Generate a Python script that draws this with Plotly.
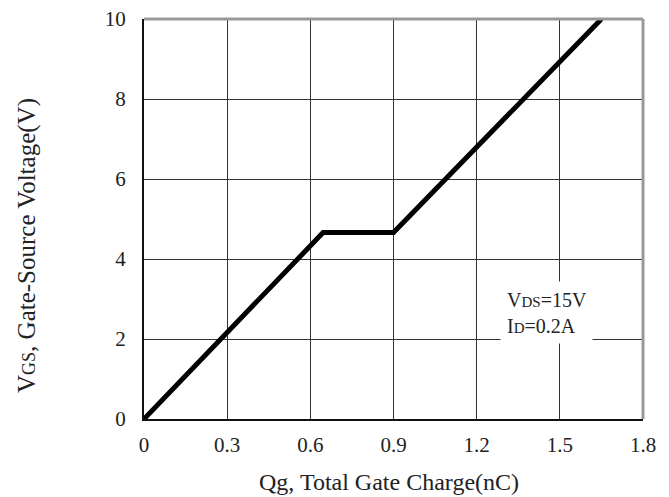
import plotly.graph_objects as go

qg = [0.0, 0.646, 0.9, 1.65]
vgs = [0.0, 4.66, 4.66, 10.0]
x_ticks = [0, 0.3, 0.6, 0.9, 1.2, 1.5, 1.8]
x_tick_labels = ["0", "0.3", "0.6", "0.9", "1.2", "1.5", "1.8"]
y_ticks = [0, 2, 4, 6, 8, 10]
y_tick_labels = ["0", "2", "4", "6", "8", "10"]

FONT = "Liberation Serif, Times New Roman, serif"
TXT = "#222222"

fig = go.Figure()
fig.add_trace(go.Scatter(x=qg, y=vgs, mode="lines",
                         line=dict(color="black", width=5), showlegend=False,
                         hoverinfo="skip"))

axis_common = dict(showgrid=True, gridcolor="#333333", gridwidth=1, automargin=False,
                   zeroline=False, showline=True, linecolor="#111111", linewidth=2,
                   ticks="", ticklabeloverflow="allow",
                   tickfont=dict(family=FONT, size=21, color=TXT))

fig.update_xaxes(range=[0, 1.8], tickvals=x_ticks, ticktext=x_tick_labels,
                 ticklabelstandoff=6, **axis_common)
fig.update_yaxes(range=[0, 10], tickvals=y_ticks, ticktext=y_tick_labels,
                 ticklabelstandoff=12, **axis_common)

# axis titles
fig.add_annotation(x=0.491, y=-0.1575, xref="paper", yref="paper", showarrow=False,
                   xanchor="center", yanchor="middle",
                   text="Qg, Total Gate Charge(nC)",
                   font=dict(family=FONT, size=24, color=TXT))
fig.add_annotation(x=-0.2345, y=0.435, xref="paper", yref="paper", showarrow=False,
                   xanchor="center", yanchor="middle", textangle=-90,
                   text="V<span style='font-size:18px'>GS</span>, Gate-Source Voltage(V)",
                   font=dict(family=FONT, size=25, color=TXT))

# gray top and right frame
fig.add_shape(type="line", xref="paper", yref="paper", x0=0, x1=1, y0=1, y1=1,
              line=dict(color="#999999", width=3))
fig.add_shape(type="line", xref="paper", yref="paper", x0=1, x1=1, y0=0, y1=1,
              line=dict(color="#999999", width=3))

fig.add_annotation(x=1.452, y=2.66, xref="x", yref="y", showarrow=False,
                   text="V<span style='font-size:15px'>DS</span>=15V<br>I<span style='font-size:15px'>D</span>=0.2A",
                   align="left", width=79, height=49, borderpad=6, bgcolor="white",
                   font=dict(family=FONT, size=20, color=TXT))

# page body has an 8px margin; size the figure so the plot lands where the reference has it
fig.update_layout(width=653, height=489, margin=dict(l=136, r=18, t=11, b=78),
                  plot_bgcolor="white", paper_bgcolor="white")

fig.write_html("out.html")
